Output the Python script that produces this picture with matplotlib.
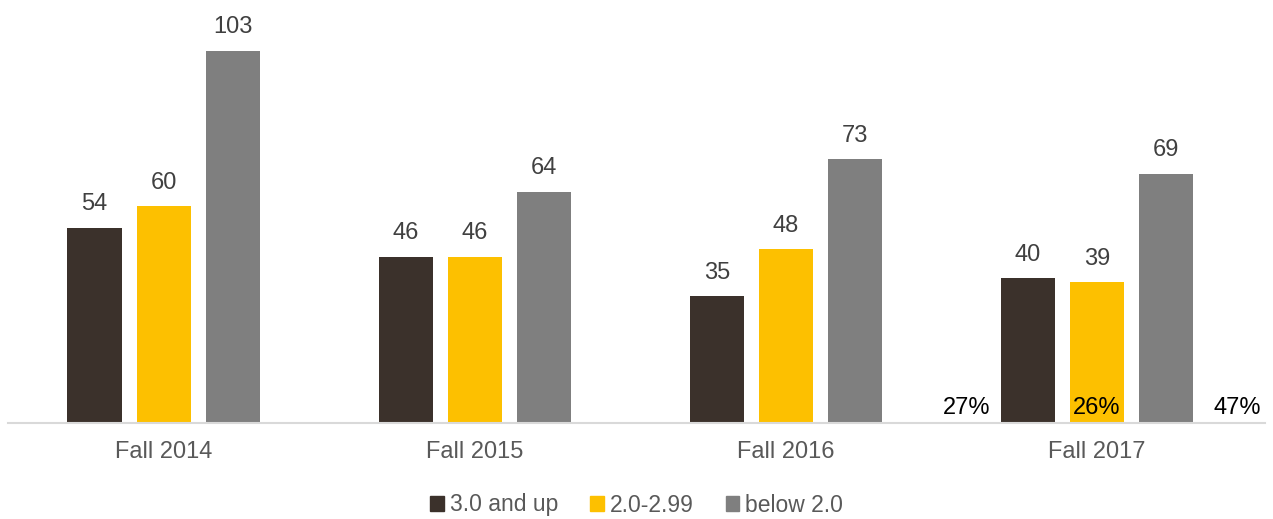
import numpy as np
import matplotlib.pyplot as plt
from matplotlib.patches import Patch

plt.rcParams['font.family'] = ['Liberation Sans', 'DejaVu Sans']

terms = ['Fall 2014', 'Fall 2015', 'Fall 2016', 'Fall 2017']
series = ['3.0 and up', '2.0-2.99', 'below 2.0']
high = [54, 46, 35, 40]
mid = [60, 46, 48, 39]
low = [103, 64, 73, 69]
share_2017 = ['27%', '26%', '47%']
colors = ['#3b312b', '#fdc000', '#7f7f7f']

W, H = 1273, 519
fig = plt.figure(figsize=(W / 100, H / 100), dpi=100)
ax = fig.add_axes([8 / W, (H - 423) / H, 1257 / W, 423 / H])

x = np.arange(len(terms))
width = 0.174
step = 0.222
for i, (vals, c) in enumerate(zip([high, mid, low], colors)):
    pos = x + (i - 1) * step
    ax.bar(pos, vals, width=width, color=c, label=series[i])
    for p, v in zip(pos, vals):
        ax.text(p, v + 3.4, str(v), ha='center', va='bottom', fontsize=17, color='#404040')

# percentages shown for the latest term
offs = [-0.418, 0, 0.45]
for o, s in zip(offs, share_2017):
    ax.text(x[-1] + o, 1.0, s, ha='center', va='bottom', fontsize=17, color='black')

ax.set_xlim(-0.5, 3.54)
ax.set_ylim(0, 117)
ax.set_xticks(x)
ax.set_xticklabels(terms, fontsize=17, color='#595959')
ax.tick_params(axis='x', length=0, pad=13)
ax.set_yticks([])
for s in ['top', 'right', 'left']:
    ax.spines[s].set_visible(False)
ax.spines['bottom'].set_color('#d9d9d9')
ax.spines['bottom'].set_linewidth(1.5)

handles = [Patch(color=c) for c in colors]
fig.legend(handles, series, loc='center', bbox_to_anchor=(0.5, 1 - 505 / H), ncol=3,
           frameon=False, fontsize=16.5, labelcolor='#595959', handlelength=0.6, handleheight=0.6,
           handletextpad=0.25, columnspacing=1.4)

fig.savefig('out.png', dpi=100)
